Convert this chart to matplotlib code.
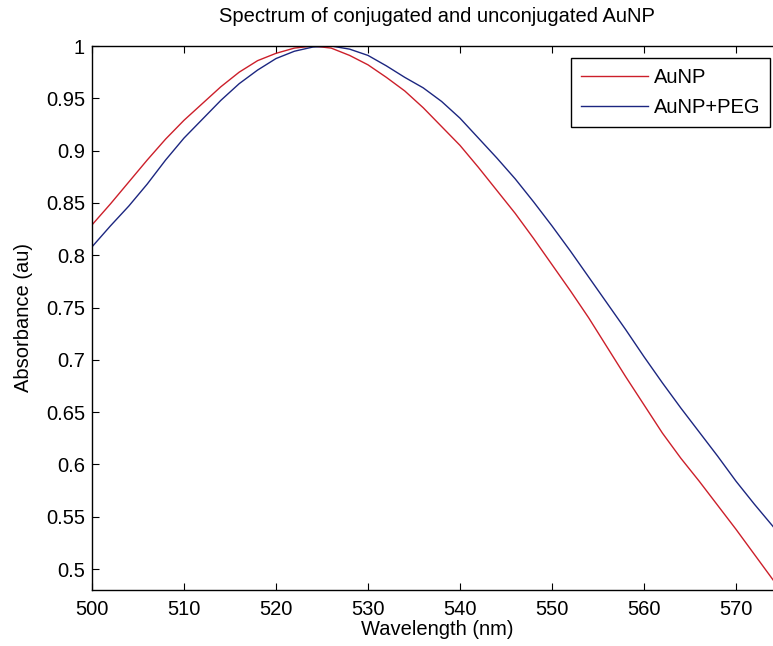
import numpy as np
import matplotlib
matplotlib.use("Agg")
import matplotlib.pyplot as plt

plt.rcParams["font.family"] = ["Liberation Sans", "DejaVu Sans"]

# Wavelength (nm) and normalised absorbance
wavelength = [500, 502, 504, 506, 508, 510, 512, 514, 516, 518,
              520, 522, 524, 526, 528, 530, 532, 534, 536, 538,
              540, 542, 544, 546, 548, 550, 552, 554, 556, 558,
              560, 562, 564, 566, 568, 570, 572, 574, 575]

aunp = [0.829, 0.849, 0.870, 0.891, 0.911, 0.929, 0.945, 0.961, 0.975, 0.986,
        0.993, 0.998, 1.000, 0.998, 0.991, 0.982, 0.970, 0.957, 0.941, 0.923,
        0.905, 0.884, 0.862, 0.840, 0.816, 0.791, 0.766, 0.740, 0.712, 0.684,
        0.657, 0.630, 0.606, 0.584, 0.561, 0.538, 0.514, 0.490, 0.478]

aunp_peg = [0.808, 0.828, 0.847, 0.868, 0.891, 0.912, 0.930, 0.948, 0.964, 0.977,
            0.988, 0.995, 0.999, 1.000, 0.997, 0.991, 0.981, 0.970, 0.960, 0.947,
            0.931, 0.912, 0.893, 0.873, 0.851, 0.828, 0.804, 0.779, 0.754, 0.729,
            0.703, 0.678, 0.654, 0.631, 0.608, 0.584, 0.562, 0.541, 0.530]

x_ticks = [500, 510, 520, 530, 540, 550, 560, 570]
y_ticks = [0.5, 0.55, 0.6, 0.65, 0.7, 0.75, 0.8, 0.85, 0.9, 0.95, 1.0]
y_tick_labels = ["0.5", "0.55", "0.6", "0.65", "0.7", "0.75", "0.8",
                 "0.85", "0.9", "0.95", "1"]

W, H = 773, 646
fig = plt.figure(figsize=(W / 100, H / 100), dpi=100)
# axes runs slightly past the right edge, as in the cropped original
ax = fig.add_axes([92 / W, (H - 590) / H, (782 - 92) / W, (590 - 46) / H])

ax.plot(wavelength, aunp, color="#cc1f2a", lw=1.0, label="AuNP")
ax.plot(wavelength, aunp_peg, color="#1c2680", lw=1.0, label="AuNP+PEG")

ax.set_xlim(500, 575)
ax.set_ylim(0.48, 1.0)
ax.set_xticks(x_ticks)
ax.set_xticklabels([str(t) for t in x_ticks])
ax.set_yticks(y_ticks)
ax.set_yticklabels(y_tick_labels)

fs = 14.5
ax.tick_params(axis="both", direction="in", length=5, width=0.8,
               labelsize=fs, top=True, right=True)
ax.tick_params(axis="x", pad=7)
ax.tick_params(axis="y", pad=5)
for sp in ax.spines.values():
    sp.set_linewidth(1.0)

ax.set_title("Spectrum of conjugated and unconjugated AuNP", fontsize=fs, pad=17)
ax.set_xlabel("Wavelength (nm)", fontsize=fs, labelpad=1)
ax.set_ylabel("Absorbance (au)", fontsize=fs, labelpad=9)

leg = ax.legend(loc="upper left", bbox_to_anchor=(571 / W, 1 - 58 / H),
                bbox_transform=fig.transFigure, borderaxespad=0,
                fontsize=fs, fancybox=False, framealpha=1, edgecolor="black",
                handlelength=3.3, handletextpad=0.3, borderpad=0.5,
                labelspacing=0.55)
leg.get_frame().set_linewidth(1.0)

fig.savefig("out.png", dpi=100)
